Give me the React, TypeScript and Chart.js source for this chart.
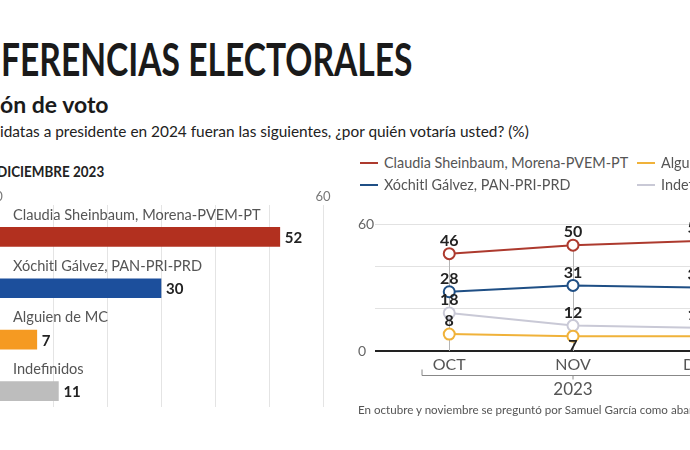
import React, { useEffect, useRef } from 'react';
import { Chart, registerables } from 'chart.js';
Chart.register(...registerables);

const candidates = ['Claudia Sheinbaum, Morena-PVEM-PT', 'Xóchitl Gálvez, PAN-PRI-PRD', 'Alguien de MC', 'Indefinidos'];
const decemberValues = [52, 30, 7, 11];
const months = ['OCT', 'NOV', 'DIC'];
const sheinbaum = [46, 50, 52];
const galvez = [28, 31, 30];
const alguienMC = [8, 7, 7];
const indefinidos = [18, 12, 11];
const barColors = ['#b2301f', '#1c4f9c', '#f59a22', '#bdbdbd'];
const lineColors = ['#ad3a2e', '#1f4f85', '#f0b23a', '#c9c9d6'];
const barTickLabels = [0, 60];
const lineTickLabels = [0, 60];
const yearLabel = '2023';

const FONT = 'Lato, sans-serif';

function BarChart() {
  const ref = useRef<HTMLCanvasElement>(null);
  useEffect(() => {
    const labelPlugin = {
      id: 'barLabels',
      afterDatasetsDraw(chart: any) {
        const ctx = chart.ctx;
        const meta = chart.getDatasetMeta(0);
        const x0 = chart.scales.x.getPixelForValue(0);
        ctx.save();
        meta.data.forEach((bar: any, i: number) => {
          const { x, y } = bar.getProps(['x', 'y'], true);
          ctx.textAlign = 'left';
          ctx.textBaseline = 'middle';
          ctx.font = '14.6px Lato';
          ctx.fillStyle = '#555';
          ctx.fillText(candidates[i], x0 + 14, y - 22);
          ctx.font = 'bold 15px Lato';
          ctx.fillStyle = '#222';
          ctx.fillText(String(decemberValues[i]), x + 5, y + 1);
        });
        ctx.restore();
      },
    };
    const chart = new Chart(ref.current!, {
      type: 'bar',
      data: {
        datasets: [
          {
            data: decemberValues.map((v, i) => ({ x: v, y: i })),
            backgroundColor: barColors,
            barThickness: 19,
            borderWidth: 0,
          },
        ],
      },
      options: {
        indexAxis: 'y',
        animation: false,
        responsive: false,
        layout: { padding: { left: 39, right: 27, top: 35, bottom: 23 } },
        plugins: { legend: { display: false }, tooltip: { enabled: false } },
        scales: {
          x: {
            type: 'linear',
            position: 'top',
            min: 0,
            max: 60,
            afterFit: (s: any) => { s.height = 20; },
            ticks: {
              stepSize: 10,
              padding: 0,
              font: { family: FONT, size: 13 },
              color: '#777',
              callback: (v: any) => (barTickLabels.includes(v) ? String(v) : ''),
            },
            grid: { color: '#e4e4e4', drawTicks: false },
            border: { display: false },
          },
          y: { type: 'linear', display: false, reverse: true, min: -0.62, max: 3.31, offset: false },
        },
      } as any,
      plugins: [labelPlugin],
    });
    return () => chart.destroy();
  }, []);
  return <canvas ref={ref} width={390} height={280} style={{ position: 'absolute', left: -40, top: 150 }} />;
}

function LineChart() {
  const ref = useRef<HTMLCanvasElement>(null);
  useEffect(() => {
    const series = [sheinbaum, galvez, alguienMC, indefinidos];
    const plugin = {
      id: 'lineDecor',
      beforeDatasetsDraw(chart: any) {
        const ctx = chart.ctx;
        const xs = chart.scales.x;
        const ys = chart.scales.y;
        ctx.save();
        ctx.strokeStyle = '#b5b5b5';
        ctx.lineWidth = 1;
        months.forEach((_, i) => {
          const top = Math.max(...series.map((s) => s[i]));
          const x = Math.round(xs.getPixelForValue(i)) + 0.5;
          ctx.beginPath();
          ctx.moveTo(x, ys.getPixelForValue(top));
          ctx.lineTo(x, ys.getPixelForValue(0));
          ctx.stroke();
        });
        ctx.restore();
      },
      afterDatasetsDraw(chart: any) {
        const ctx = chart.ctx;
        ctx.save();
        ctx.font = 'bold 16px Lato';
        ctx.fillStyle = '#222';
        ctx.textAlign = 'center';
        ctx.textBaseline = 'middle';
        series.forEach((s, k) => {
          const meta = chart.getDatasetMeta(k);
          s.forEach((v, i) => {
            const p = meta.data[i];
            const below = series.some((o, j) => j !== k && o[i] > v && o[i] - v < 6);
            ctx.fillText(String(v), p.x, p.y + (below ? 10 : -13));
          });
        });
        // year bracket
        const xs = chart.scales.x;
        const y = Math.round(chart.chartArea.bottom + 24) + 0.5;
        const left = xs.getPixelForValue(-0.22);
        const right = xs.getPixelForValue(2.22);
        const mid = xs.getPixelForValue(1);
        ctx.strokeStyle = '#888';
        ctx.lineWidth = 1;
        ctx.beginPath();
        ctx.moveTo(left, y - 6);
        ctx.lineTo(left, y);
        ctx.lineTo(right, y);
        ctx.lineTo(right, y - 6);
        ctx.moveTo(mid, y);
        ctx.lineTo(mid, y + 4);
        ctx.stroke();
        ctx.font = '17px Lato';
        ctx.fillStyle = '#555';
        ctx.fillText(yearLabel, mid, y + 14);
        ctx.restore();
      },
    };
    const chart = new Chart(ref.current!, {
      type: 'line',
      data: {
        datasets: series.map((s, k) => ({
          label: candidates[k],
          data: s.map((v, i) => ({ x: i, y: v })),
          borderColor: lineColors[k],
          backgroundColor: '#fff',
          pointBackgroundColor: '#fff',
          pointBorderColor: lineColors[k],
          pointBorderWidth: 2,
          pointRadius: 5.5,
          borderWidth: 2,
          tension: 0,
          order: k === 0 ? 0 : k === 1 ? 1 : 2,
        })),
      },
      options: {
        animation: false,
        responsive: false,
        layout: { padding: { left: 18, right: 29, top: 24, bottom: 49 } },
        plugins: { legend: { display: false }, tooltip: { enabled: false } },
        scales: {
          x: {
            type: 'linear',
            min: -0.6,
            max: 2.6,
            offset: false,
            afterFit: (s: any) => { s.height = 30; },
            afterBuildTicks: (s: any) => { s.ticks = months.map((_, i) => ({ value: i })); },
            ticks: {
              padding: 4,
              autoSkip: false,
              maxRotation: 0,
              font: { family: FONT, size: 16 },
              color: '#555',
              callback: (v: any) => months[v] ?? '',
            },
            grid: { display: false, drawTicks: false },
            border: { display: false },
          },
          y: {
            min: 0,
            max: 60,
            afterFit: (s: any) => { s.width = 17; },
            ticks: {
              stepSize: 20,
              padding: 0,
              crossAlign: 'far',
              font: { family: FONT, size: 14 },
              color: '#666',
              callback: (v: any) => (lineTickLabels.includes(v) ? String(v) : ''),
            },
            grid: {
              drawTicks: false,
              color: (c: any) => (c.tick && c.tick.value === 0 ? '#222' : '#e2e2e2'),
              lineWidth: (c: any) => (c.tick && c.tick.value === 0 ? 2 : 1),
            },
            border: { display: false },
          },
        },
      } as any,
      plugins: [plugin],
    });
    return () => chart.destroy();
  }, []);
  return <canvas ref={ref} width={460} height={230} style={{ position: 'absolute', left: 340, top: 200 }} />;
}

function LegendItem({ color, text, left, top }: { color: string; text: string; left: number; top: number }) {
  return (
    <div style={{ position: 'absolute', left, top, whiteSpace: 'nowrap', display: 'flex', alignItems: 'center', fontSize: 14.4, color: '#555', lineHeight: '18px' }}>
      <span style={{ display: 'inline-block', width: 18, height: 2, background: color, marginRight: 6 }} />
      <span>{text}</span>
    </div>
  );
}

export default function App() {
  return (
    <div style={{ position: 'absolute', left: 0, top: 0, width: 690, height: 450, overflow: 'hidden', background: '#fff', fontFamily: FONT }}>
      <div style={{ position: 'absolute', left: 1, top: 36, fontSize: 46, fontWeight: 700, lineHeight: '46px', color: '#1a1a1a', whiteSpace: 'nowrap', transform: 'scaleX(0.73)', transformOrigin: '0 0' }}>FERENCIAS ELECTORALES</div>
      <div style={{ position: 'absolute', left: 0, top: 92, fontSize: 23, fontWeight: 700, lineHeight: '24px', color: '#1a1a1a', whiteSpace: 'nowrap' }}>ón de voto</div>
      <div style={{ position: 'absolute', left: 0, top: 122, fontSize: 15.4, fontWeight: 400, lineHeight: '18px', color: '#222', whiteSpace: 'nowrap' }}>idatas a presidente en 2024 fueran las siguientes, ¿por quién votaría usted? (%)</div>
      <div style={{ position: 'absolute', left: -3, top: 162, fontSize: 16, fontWeight: 700, lineHeight: '18px', color: '#222', whiteSpace: 'nowrap', transform: 'scaleX(0.84)', transformOrigin: '0 0' }}>DICIEMBRE 2023</div>
      <BarChart />
      <LegendItem color={lineColors[0]} text={candidates[0]} left={360} top={154} />
      <LegendItem color={lineColors[2]} text={candidates[2]} left={637} top={154} />
      <LegendItem color={lineColors[1]} text={candidates[1]} left={360} top={176} />
      <LegendItem color={lineColors[3]} text={candidates[3]} left={637} top={176} />
      <LineChart />
      <div style={{ position: 'absolute', left: 358, top: 403, fontSize: 11.6, color: '#555', whiteSpace: 'nowrap' }}>En octubre y noviembre se preguntó por Samuel García como abanderado de MC</div>
    </div>
  );
}
